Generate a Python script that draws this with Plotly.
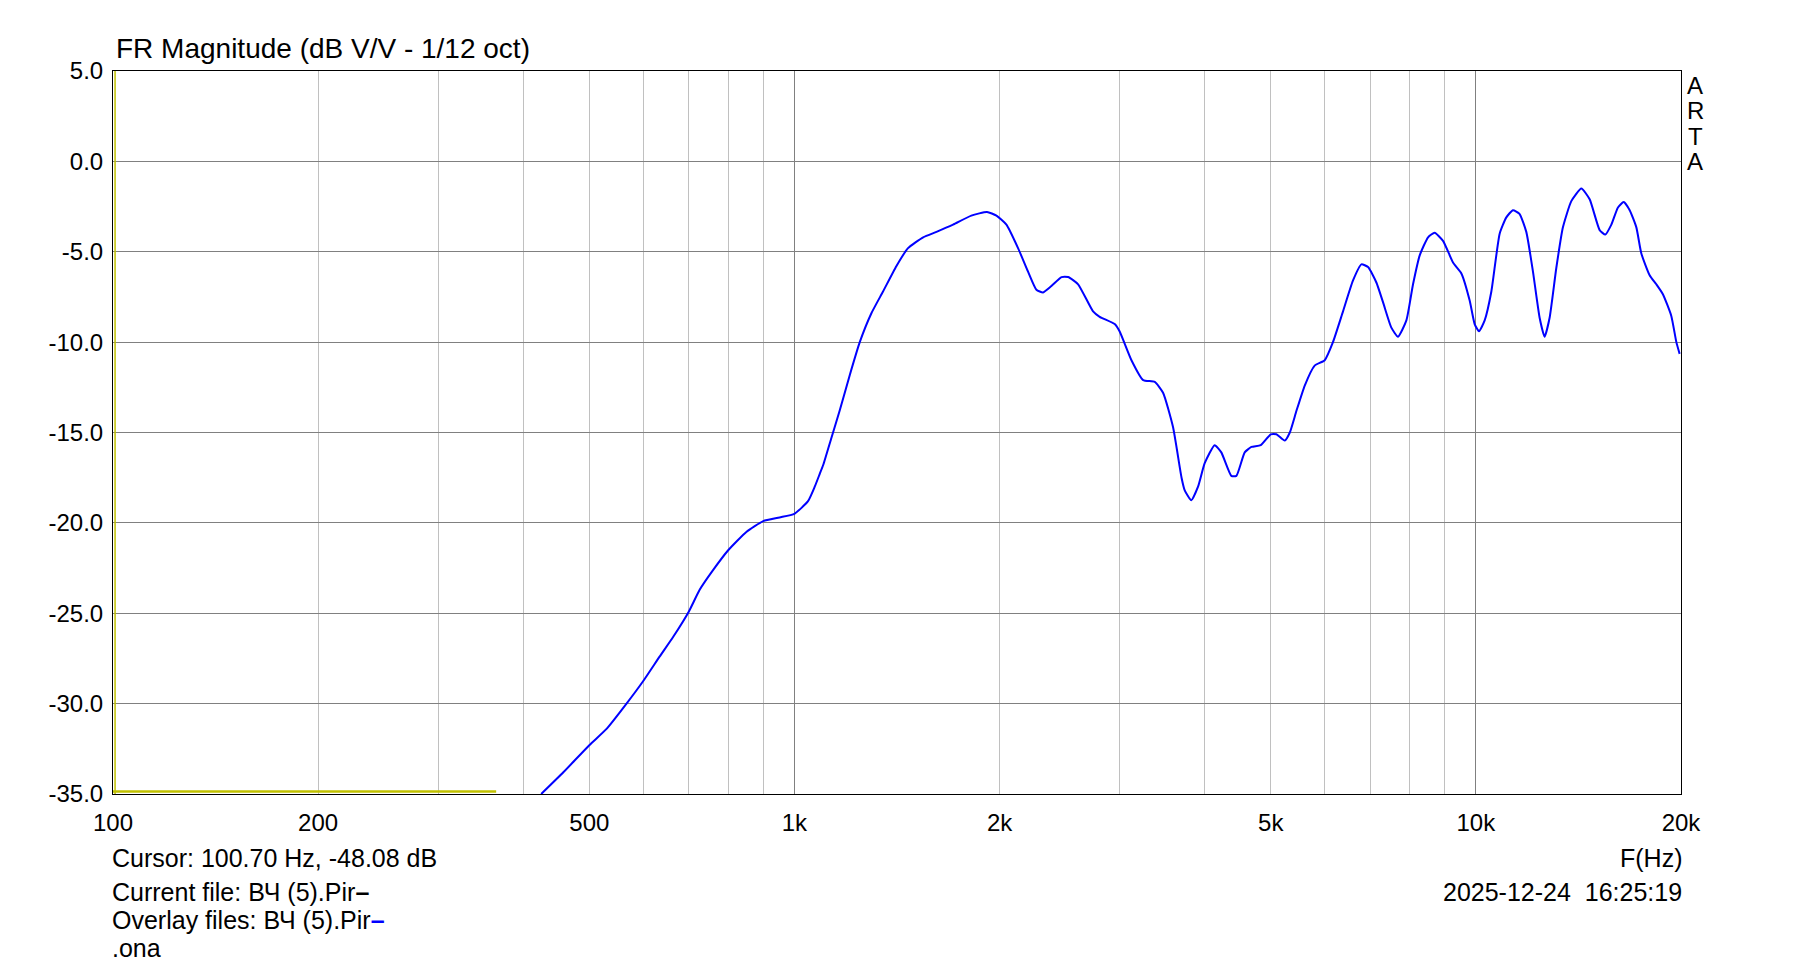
import math
import plotly.graph_objects as go

# ---------------- data ----------------
freq_hz = [425, 458, 500, 530, 567, 600, 634, 664, 700, 726, 760, 800, 850, 900, 951,
           1000, 1047, 1071, 1089, 1102, 1133, 1165, 1206, 1247, 1297, 1349, 1411, 1468,
           1545, 1616, 1709, 1818, 1917, 1979, 2047, 2129, 2202, 2265, 2317, 2383, 2466,
           2521, 2608, 2743, 2805, 2951, 3000, 3123, 3249, 3379, 3475, 3594, 3699, 3739,
           3823, 3911, 4000, 4137, 4231, 4377, 4452, 4579, 4684, 4834, 5000, 5097, 5242,
           5333, 5454, 5609, 5800, 6000, 6170, 6383, 6601, 6793, 6947, 7145, 7308, 7516,
           7687, 7907, 8087, 8272, 8508, 8700, 8950, 9258, 9522, 9793, 9959, 10106, 10302,
           10537, 10837, 11084, 11335, 11588, 11858, 12128, 12404, 12614, 12830, 13123,
           13420, 13806, 14282, 14689, 15193, 15488, 15806, 16163, 16479, 16816, 17199,
           17492, 17989, 18400, 18814, 19355, 19688, 19908]
mag_db = [-35.0, -33.8, -32.3, -31.4, -30.0, -28.75, -27.4, -26.3, -24.9, -23.7, -22.6,
          -21.5, -20.5, -19.9, -19.7,
          -19.5, -18.8, -18.0, -17.3, -16.8, -15.3, -13.8, -11.8, -10.0, -8.4, -7.2, -5.8,
          -4.8, -4.2, -3.9, -3.5, -3.0, -2.8, -3.0, -3.5, -4.8, -6.1, -7.1, -7.25, -6.9,
          -6.4, -6.4, -6.8, -8.3, -8.6, -9.0, -9.4, -11.0, -12.1, -12.2, -12.8, -14.7,
          -17.5, -18.2, -18.75, -18.0, -16.7, -15.7, -16.1, -17.4, -17.4, -16.1, -15.8,
          -15.7, -15.1, -15.1, -15.45, -15.0, -13.8, -12.4, -11.3, -11.0, -10.0, -8.3,
          -6.6, -5.7, -5.85, -6.7, -7.8, -9.2, -9.7, -8.8, -6.8, -5.2, -4.2, -3.95, -4.4,
          -5.6, -6.2, -7.7, -9.0, -9.4, -8.8, -7.2, -4.0, -3.1, -2.7, -2.9, -3.9, -6.1,
          -8.65, -9.7, -8.65, -5.9, -3.65, -2.2, -1.5, -2.1, -3.8, -4.05, -3.5, -2.55,
          -2.25, -2.7, -3.65, -5.1, -6.3, -6.8, -7.35, -8.55, -10.0, -10.65]

# yellow trace (current file / cursor)
yellow_freq = [100, 365]
yellow_db = [-34.86, -34.86]
cursor_freq = [100.7, 100.7]
cursor_db = [-35, 5]

x_tick_vals = [100, 200, 500, 1000, 2000, 5000, 10000, 20000]
x_tick_text = ["100", "200", "500", "1k", "2k", "5k", "10k", "20k"]
x_minor_vals = [200, 300, 400, 500, 600, 700, 800, 900,
                2000, 3000, 4000, 5000, 6000, 7000, 8000, 9000]
x_major_grid = [1000, 10000]
y_tick_vals = [5, 0, -5, -10, -15, -20, -25, -30, -35]
y_tick_text = ["5.0", "0.0", "-5.0", "-10.0", "-15.0", "-20.0", "-25.0", "-30.0", "-35.0"]

title_text = "FR Magnitude (dB V/V - 1/12 oct)"
cursor_text = "Cursor: 100.70 Hz, -48.08 dB"
current_text = "Current file: ВЧ (5).Pir<span style='color:#000000'><b>–</b></span>"
overlay_text = "Overlay files: ВЧ (5).Pir<span style='color:#0000ff'><b>–</b></span>"
overlay_text2 = ".ona"
axis_unit = "F(Hz)"
date_text = "2025-12-24  16:25:19"
arta_letters = ["A", "R", "T", "A"]

FONT = "Liberation Sans, Arial, sans-serif"
YELLOW = "#c0c000"

fig = go.Figure()
fig.add_trace(go.Scatter(x=yellow_freq, y=yellow_db, mode="lines",
                         line=dict(color=YELLOW, width=2.5), hoverinfo="skip", showlegend=False))
fig.add_trace(go.Scatter(x=cursor_freq, y=cursor_db, mode="lines",
                         line=dict(color=YELLOW, width=1.5), hoverinfo="skip", showlegend=False))
fig.add_trace(go.Scatter(x=freq_hz, y=mag_db, mode="lines",
                         line=dict(color="#0000ff", width=2, shape="spline", smoothing=0.5),
                         showlegend=False))
# invisible trace on the overlay axis (dark decade grid)
fig.add_trace(go.Scatter(x=[1000], y=[-35], xaxis="x2", mode="markers",
                         marker=dict(opacity=0), hoverinfo="skip", showlegend=False))

xr = [math.log10(100), math.log10(20000)]

fig.update_layout(
    width=1793, height=966,
    margin=dict(l=113, r=112, t=71, b=172),
    paper_bgcolor="white", plot_bgcolor="white",
    font=dict(family=FONT, size=24, color="black"),
    xaxis=dict(type="log", range=xr, tickmode="array", tickvals=x_tick_vals,
               ticktext=x_tick_text, showgrid=False, zeroline=False,
               ticks="outside", ticklen=7, tickcolor="rgba(0,0,0,0)",
               tickfont=dict(size=24, family=FONT),
               showline=True, linecolor="black", linewidth=1, mirror=True,
               minor=dict(tickmode="array", tickvals=x_minor_vals, showgrid=True,
                          gridcolor="#c0c0c0", gridwidth=1, ticks="")),
    xaxis2=dict(type="log", range=xr, overlaying="x", tickmode="array",
                tickvals=x_major_grid, showgrid=True, gridcolor="#808080", gridwidth=1,
                showticklabels=False, ticks="", zeroline=False, showline=False),
    yaxis=dict(range=[-35, 5], tickmode="array", tickvals=y_tick_vals, ticktext=y_tick_text,
               showgrid=True, gridcolor="#808080", gridwidth=1, zeroline=False,
               ticks="outside", ticklen=4, tickcolor="rgba(0,0,0,0)",
               tickfont=dict(size=24, family=FONT),
               showline=True, linecolor="black", linewidth=1, mirror=True),
)

ann = []
ann.append(dict(text=title_text, xref="paper", yref="paper", x=0, y=1, xshift=1, yshift=23,
                xanchor="left", yanchor="middle", showarrow=False, font=dict(size=28)))
for i, ch in enumerate(arta_letters):
    ann.append(dict(text=ch, xref="paper", yref="paper", x=1, y=1, xshift=14,
                    yshift=-14 - 25.5 * i, xanchor="center", yanchor="middle",
                    showarrow=False, font=dict(size=24)))
left_lines = [(cursor_text, -64), (current_text, -98), (overlay_text, -126), (overlay_text2, -154)]
for t, ys in left_lines:
    ann.append(dict(text=t, xref="paper", yref="paper", x=0, y=0, xshift=-3, yshift=ys,
                    xanchor="left", yanchor="middle", showarrow=False, font=dict(size=25)))
for t, ys in [(axis_unit, -64), (date_text, -98)]:
    ann.append(dict(text=t, xref="paper", yref="paper", x=1, y=0, xshift=3, yshift=ys,
                    xanchor="right", yanchor="middle", showarrow=False, font=dict(size=25)))
fig.update_layout(annotations=ann)

fig.write_html("out.html", config={"displayModeBar": False},
               post_script="document.body.style.margin='0';")
